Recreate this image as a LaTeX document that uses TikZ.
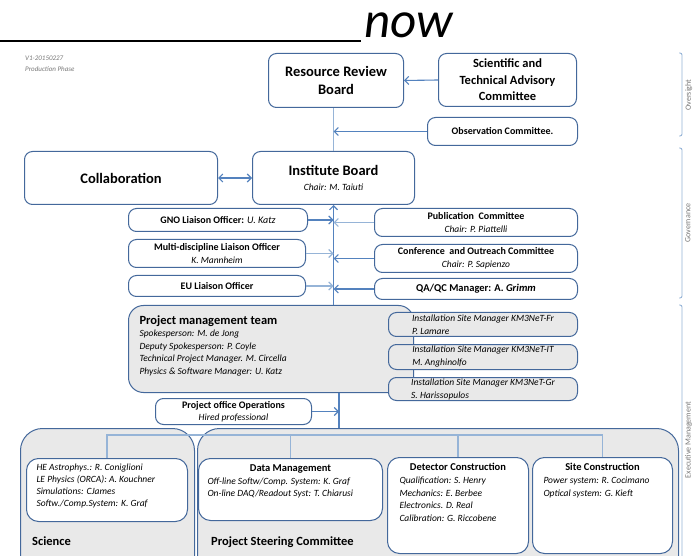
\documentclass[tikz,border=0pt]{standalone}
\usepackage{fontspec}
\setmainfont{Carlito}
\usetikzlibrary{positioning,arrows.meta}
\definecolor{boxblue}{RGB}{68,104,155}
\definecolor{lineblue}{RGB}{84,130,190}
\definecolor{paleblue}{RGB}{150,180,215}
\definecolor{boxgray}{RGB}{233,233,233}
\definecolor{sidegray}{RGB}{120,120,120}
\newcommand\fhead{\fontsize{14.5}{17.5}\selectfont\bfseries}
\newcommand\fmid{\fontsize{10}{13}\selectfont\bfseries}
\newcommand\fsub{\fontsize{9.5}{12.5}\selectfont\mdseries\itshape}

\begin{document}
\begin{tikzpicture}[x=1pt,y=-1pt,
  box/.style={draw=boxblue,line width=1pt,rounded corners=8pt,fill=white,align=center,inner sep=0pt,anchor=north west},
  graybox/.style={box,fill=boxgray},
  panel/.style={draw=boxblue,line width=1pt,rounded corners=12pt,fill=white,anchor=north west},
  outer/.style={draw=boxblue,line width=1pt,rounded corners=22pt,fill=boxgray,inner sep=0pt,anchor=north west},
  link/.style={draw=lineblue,line width=1.1pt},
  pale/.style={draw=paleblue,line width=1.1pt},
  tip/.style={-{Straight Barb[length=4pt,width=8pt]}},
  brace/.style={draw=paleblue,line width=0.9pt,rounded corners=2pt},
  side/.style={rotate=90,anchor=north,inner sep=0pt,text=sidegray,font=\fontsize{8}{10}\selectfont}]
  \useasboundingbox (0,0) rectangle (694,556);
  \clip (0,0) rectangle (694,556);
  \fill[white] (0,0) rectangle (694,556);

  \draw[line width=1.5pt] (0,41) -- (361,41);
  \node[anchor=base west,font=\fontsize{51}{51}\selectfont\itshape,inner sep=0pt] (now) at (364,38) {now};
  \node[anchor=north west,align=left,inner sep=0pt,text=sidegray,font=\fontsize{7}{11}\selectfont\itshape] (version) at (25,56) {V1-20150227\\Production Phase};

  \node[box,minimum width=135pt,minimum height=54pt,font=\fhead] (rrb) at (268,53) {Resource Review\\Board};
  \node[box,minimum width=138pt,minimum height=53pt,font=\fontsize{12.5}{16.5}\selectfont\bfseries] (stac) at (438,53) {Scientific and\\Technical Advisory\\Committee};
  \node[box,minimum width=150pt,minimum height=28pt,font=\fmid] (obs) at (427,117) {Observation Committee.};
  \node[box,minimum width=193pt,minimum height=53pt,font=\fhead] (collab) at (24,151) {Collaboration};
  \node[box,minimum width=162pt,minimum height=53pt,font=\fhead] (ib) at (252,151) {Institute Board\\[-2pt]{\fsub Chair: M. Taiuti}};

  \node[box,minimum width=179pt,minimum height=23pt,font=\fmid] (gno) at (128,208) {GNO Liaison Officer: {\mdseries\itshape U. Katz}};
  \node[box,minimum width=177pt,minimum height=28pt,font=\fmid,below=7pt of gno.south west,anchor=north west] (multi) {Multi-discipline Liaison Officer\\{\fsub K. Mannheim}};
  \node[box,minimum width=177pt,minimum height=21pt,font=\fmid,below=7pt of multi.south west,anchor=north west] (eu) {EU Liaison Officer};

  \node[box,minimum width=203pt,minimum height=28pt,font=\fmid] (pub) at (374,208) {Publication\ \ Committee\\{\fsub Chair: P. Piattelli}};
  \node[box,minimum width=203pt,minimum height=28pt,font=\fmid,below=7pt of pub.south west,anchor=north west] (conf) {Conference\ \ and Outreach Committee\\{\fsub Chair: P. Sapienzo}};
  \node[box,minimum width=203pt,minimum height=21pt,font=\fontsize{10.5}{13}\selectfont\bfseries,below=5pt of conf.south west,anchor=north west] (qa) {QA/QC Manager: A. \textit{Grimm}};

  \draw[link,tip] (stac.west) -- (rrb.east);
  \draw[pale] (ib.north) -- (ib.north |- rrb.south);
  \draw[link,tip] (obs.west) -- (obs.west -| ib.north);
  \draw[link,{Straight Barb[length=4pt,width=8pt]}-{Straight Barb[length=4pt,width=8pt]}] (collab.east) -- (ib.west);

  \node[graybox,rounded corners=15pt,inner xsep=11pt,inner ysep=10pt,align=left] (pmt) at (128,305) {\parbox[t][67pt][t]{263pt}{\fontsize{12.5}{16}\selectfont\bfseries Project management team\par
    \fontsize{9.5}{12.5}\selectfont\mdseries\itshape Spokesperson: M. de Jong\\Deputy Spokesperson: P. Coyle\\Technical Project Manager. M. Circella\\Physics \& Software Manager: U. Katz}};
  \draw[link,tip] (ib.south |- pmt.north) -- (ib.south);
  \draw[link,tip] (gno.east) -- (gno.east -| ib.south);
  \draw[pale,tip] (multi.east) -- (multi.east -| ib.south);
  \draw[pale,tip] (eu.east) -- (eu.east -| ib.south);
  \draw[pale,tip] (pub.west) -- (pub.west -| ib.south);
  \draw[link,tip] (conf.west) -- (conf.west -| ib.south);
  \draw[link,tip] (qa.west) -- (qa.west -| ib.south);

  \node[graybox,minimum width=189pt,minimum height=24pt,align=left,inner xsep=8pt,font=\fontsize{9.5}{13}\selectfont\itshape] (instfr) at (388,312) {Installation Site Manager KM3NeT-Fr\\P. Lamare};
  \node[graybox,minimum width=189pt,minimum height=25pt,align=left,inner xsep=8pt,font=\fontsize{9.5}{13}\selectfont\itshape,below=7pt of instfr.south west,anchor=north west] (instit) {Installation Site Manager KM3NeT-IT\\M. Anghinolfo};
  \node[graybox,minimum width=189pt,minimum height=23pt,align=left,inner xsep=8pt,font=\fontsize{9.5}{13}\selectfont\itshape,below=7pt of instit.south west,anchor=north west] (instgr) {Installation Site Manager KM3NeT-Gr\\S. Harissopulos};

  \node[box,minimum width=156pt,minimum height=26pt,font=\fmid] (poo) at (155,398) {Project office Operations\\[-1pt]{\fsub Hired professional}};
  \coordinate (hub) at (339,435);
  \draw[link] (hub |- pmt.south) -- (hub);
  \draw[link,tip] (poo.east) -- (poo.east -| hub);

  \node[outer,minimum width=174pt,minimum height=150pt] (science) at (20,428) {};
  \node[outer,minimum width=481pt,minimum height=150pt] (psc) at (197,428) {};
  \node[anchor=base west,font=\fontsize{12.5}{15}\selectfont\bfseries,inner sep=0pt] (scilab) at (32,545) {Science};
  \node[anchor=base west,font=\fontsize{12.5}{15}\selectfont\bfseries,inner sep=0pt] (psclab) at (211,545) {Project Steering Committee};

  \node[panel,inner xsep=10pt,inner ysep=5pt] (sciin) at (26,458) {\parbox[t][53pt][t]{141pt}{\fontsize{9.5}{12.3}\selectfont\itshape HE Astrophys.: R. Coniglioni\\LE Physics (ORCA): A. Kouchner\\Simulations: CJames\\Softw./Comp.System: K. Graf}};
  \node[panel,inner xsep=9pt,inner ysep=6pt] (dm) at (198,458) {\parbox[t][50pt][t]{166pt}{\centering\fontsize{10.5}{13}\selectfont\bfseries Data Management\par
    \raggedright\fontsize{9.5}{12.8}\selectfont\mdseries\itshape Off-line Softw/Comp. System: K. Graf\\On-line DAQ/Readout Syst: T. Chiarusi}};
  \node[panel,inner xsep=12pt,inner ysep=6pt] (det) at (387,457) {\parbox[t][84pt][t]{117pt}{\centering\fontsize{10.5}{13}\selectfont\bfseries Detector Construction\par
    \raggedright\fontsize{9.5}{12.7}\selectfont\mdseries\itshape Qualification: S. Henry\\Mechanics: E. Berbee\\Electronics. D. Real\\Calibration: G. Riccobene}};
  \node[panel,inner xsep=11pt,inner ysep=6pt] (site) at (532,457) {\parbox[t][84pt][t]{118pt}{\centering\fontsize{10.5}{13}\selectfont\bfseries Site Construction\par
    \raggedright\fontsize{9.5}{12.7}\selectfont\mdseries\itshape Power system: R. Cocimano\\Optical system: G. Kieft}};

  \draw[pale] (sciin.north) |- (site.north |- hub) -- (site.north);
  \draw[pale] (dm.north) -- (dm.north |- hub);
  \draw[pale] (det.north) -- (det.north |- hub);

  \draw[brace] (679,53) -- (682,53) -- (682,136) -- (679,136);
  \draw[brace] (679,148) -- (682,148) -- (682,298) -- (679,298);
  \draw[brace] (679,305) -- (682,305) -- (682,570);
  \node[side] (oversight) at (685,95) {Oversight};
  \node[side] (governance) at (685,223) {Governance};
  \node[side] (executive) at (685,440) {Executive Management};
\end{tikzpicture}
\end{document}
